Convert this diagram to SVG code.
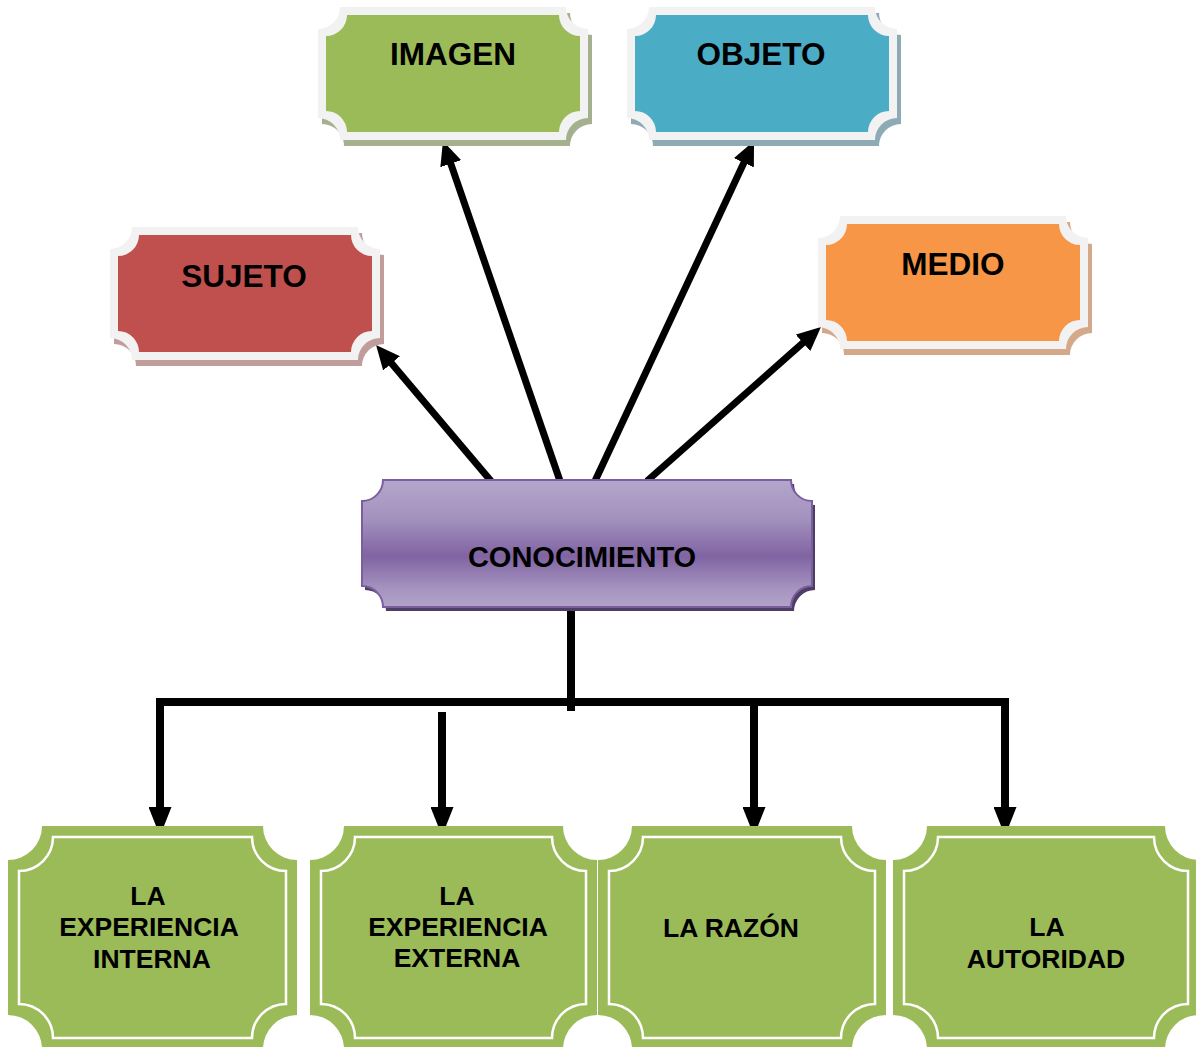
<svg xmlns="http://www.w3.org/2000/svg" xmlns:xlink="http://www.w3.org/1999/xlink" width="1196" height="1047" viewBox="0 0 1196 1047">
<style>
.t{font-family:"Liberation Sans",Arial,sans-serif;font-weight:bold;fill:#000;text-anchor:middle}
.big{font-size:31.5px}
.mid{font-size:29px}
.sm{font-size:26.5px}
.up{stroke:#000;stroke-width:7;fill:none}
.down{stroke:#000;stroke-width:8;fill:none}
.frame{fill:#f2f2f2}
.green{fill:#9bbb59}
.inner{fill:none;stroke:#ffffff;stroke-width:2.5}
</style>
<defs>
<marker id="ah" markerUnits="userSpaceOnUse" markerWidth="24" markerHeight="22" viewBox="0 0 24 22" refX="10" refY="11" orient="auto">
<path d="M0,0 L24,11 L0,22 Z" fill="#000"/>
</marker>
<marker id="ahb" markerUnits="userSpaceOnUse" markerWidth="29" markerHeight="23" viewBox="0 0 29 23" refX="8" refY="11.5" orient="auto">
<path d="M0,0 L29,11.5 L0,23 Z" fill="#000"/>
</marker>
<path id="plO" d="M22,0 H248 A22,22 0 0 0 270,22 V111 A22,22 0 0 0 248,133 H22 A22,22 0 0 0 0,111 V22 A22,22 0 0 0 22,0 Z"/>
<path id="plI" d="M29,8 H241 A21,21 0 0 0 262,29 V104 A21,21 0 0 0 241,125 H29 A21,21 0 0 0 8,104 V29 A21,21 0 0 0 29,8 Z"/>
<linearGradient id="purp" x1="0" y1="0" x2="0" y2="1">
<stop offset="0" stop-color="#b4a6cc"/>
<stop offset="0.3" stop-color="#a492be"/>
<stop offset="0.6" stop-color="#8064a2"/>
<stop offset="0.85" stop-color="#a593bf"/>
<stop offset="1" stop-color="#b3a3c9"/>
</linearGradient>
</defs>

<g id="connectors">
<line class="up" x1="491" y1="481" x2="385.1" y2="355.7" marker-end="url(#ah)"/>
<line class="up" x1="560" y1="481" x2="447.5" y2="154.2" marker-end="url(#ah)"/>
<line class="up" x1="595" y1="481" x2="748.1" y2="153.7" marker-end="url(#ah)"/>
<line class="up" x1="647" y1="481" x2="810.5" y2="336.2" marker-end="url(#ah)"/>
<line class="down" x1="571" y1="607" x2="571" y2="711"/>
<line class="down" x1="156" y1="702" x2="1009" y2="702"/>
<line class="down" x1="160" y1="698" x2="160" y2="815" marker-end="url(#ahb)"/>
<line class="down" x1="442" y1="712" x2="442" y2="815" marker-end="url(#ahb)"/>
<line class="down" x1="754" y1="702" x2="754" y2="815" marker-end="url(#ahb)"/>
<line class="down" x1="1005" y1="698" x2="1005" y2="815" marker-end="url(#ahb)"/>
</g>

<g id="imagen" transform="translate(318,7)">
<use xlink:href="#plO" x="4" y="6" fill="#a5b08f"/>
<use xlink:href="#plO" class="frame"/>
<use xlink:href="#plI" fill="#9bbb59"/>
<text class="t big" x="135" y="58">IMAGEN</text>
</g>

<g id="objeto" transform="translate(627,7)">
<use xlink:href="#plO" x="4" y="6" fill="#8eaab5"/>
<use xlink:href="#plO" class="frame"/>
<use xlink:href="#plI" fill="#4bacc6"/>
<text class="t big" x="134" y="58">OBJETO</text>
</g>

<g id="sujeto" transform="translate(110,227)">
<use xlink:href="#plO" x="4" y="6" fill="#c09c9b"/>
<use xlink:href="#plO" class="frame"/>
<use xlink:href="#plI" fill="#c0504d"/>
<text class="t big" x="134" y="60">SUJETO</text>
</g>

<g id="medio" transform="translate(818,216)">
<use xlink:href="#plO" x="4" y="6" fill="#d3a98a"/>
<use xlink:href="#plO" class="frame"/>
<use xlink:href="#plI" fill="#f79646"/>
<text class="t big" x="135" y="59">MEDIO</text>
</g>

<g id="conocimiento">
<path d="M386,484 H794 A21,21 0 0 0 815,505 V590 A21,21 0 0 0 794,611 H386 A21,21 0 0 0 365,590 V505 A21,21 0 0 0 386,484 Z" fill="#4f3d68"/>
<path d="M383,480 H791 A21,21 0 0 0 812,501 V586 A21,21 0 0 0 791,607 H383 A21,21 0 0 0 362,586 V501 A21,21 0 0 0 383,480 Z" fill="url(#purp)" stroke="#7b5e9e" stroke-width="2"/>
<text class="t mid" x="582" y="567">CONOCIMIENTO</text>
</g>

<g id="exp-interna">
<path class="green" d="M42,826 H263 A34,34 0 0 0 297,860 V1015 A34,34 0 0 0 263,1049 H42 A34,34 0 0 0 8,1015 V860 A34,34 0 0 0 42,826 Z"/>
<path class="inner" d="M53,837 H252 A34,34 0 0 0 286,871 V1004 A34,34 0 0 0 252,1038 H53 A34,34 0 0 0 19,1004 V871 A34,34 0 0 0 53,837 Z"/>
<text class="t sm" x="148" y="905">LA</text>
<text class="t sm" x="149" y="936">EXPERIENCIA</text>
<text class="t sm" x="152" y="968">INTERNA</text>
</g>

<g id="exp-externa">
<path class="green" d="M344,826 H563 A34,34 0 0 0 597,860 V1015 A34,34 0 0 0 563,1049 H344 A34,34 0 0 0 310,1015 V860 A34,34 0 0 0 344,826 Z"/>
<path class="inner" d="M355,837 H552 A34,34 0 0 0 586,871 V1004 A34,34 0 0 0 552,1038 H355 A34,34 0 0 0 321,1004 V871 A34,34 0 0 0 355,837 Z"/>
<text class="t sm" x="457" y="905">LA</text>
<text class="t sm" x="458" y="936">EXPERIENCIA</text>
<text class="t sm" x="457" y="967">EXTERNA</text>
</g>

<g id="razon">
<path class="green" d="M632,826 H852 A34,34 0 0 0 886,860 V1015 A34,34 0 0 0 852,1049 H632 A34,34 0 0 0 598,1015 V860 A34,34 0 0 0 632,826 Z"/>
<path class="inner" d="M643,837 H841 A34,34 0 0 0 875,871 V1004 A34,34 0 0 0 841,1038 H643 A34,34 0 0 0 609,1004 V871 A34,34 0 0 0 643,837 Z"/>
<text class="t sm" x="731" y="937">LA RAZÓN</text>
</g>

<g id="autoridad">
<path class="green" d="M927,826 H1165 A34,34 0 0 0 1199,860 V1015 A34,34 0 0 0 1165,1049 H927 A34,34 0 0 0 893,1015 V860 A34,34 0 0 0 927,826 Z"/>
<path class="inner" d="M938,837 H1154 A34,34 0 0 0 1188,871 V1004 A34,34 0 0 0 1154,1038 H938 A34,34 0 0 0 904,1004 V871 A34,34 0 0 0 938,837 Z"/>
<text class="t sm" x="1047" y="936">LA</text>
<text class="t sm" x="1046" y="968">AUTORIDAD</text>
</g>
</svg>
